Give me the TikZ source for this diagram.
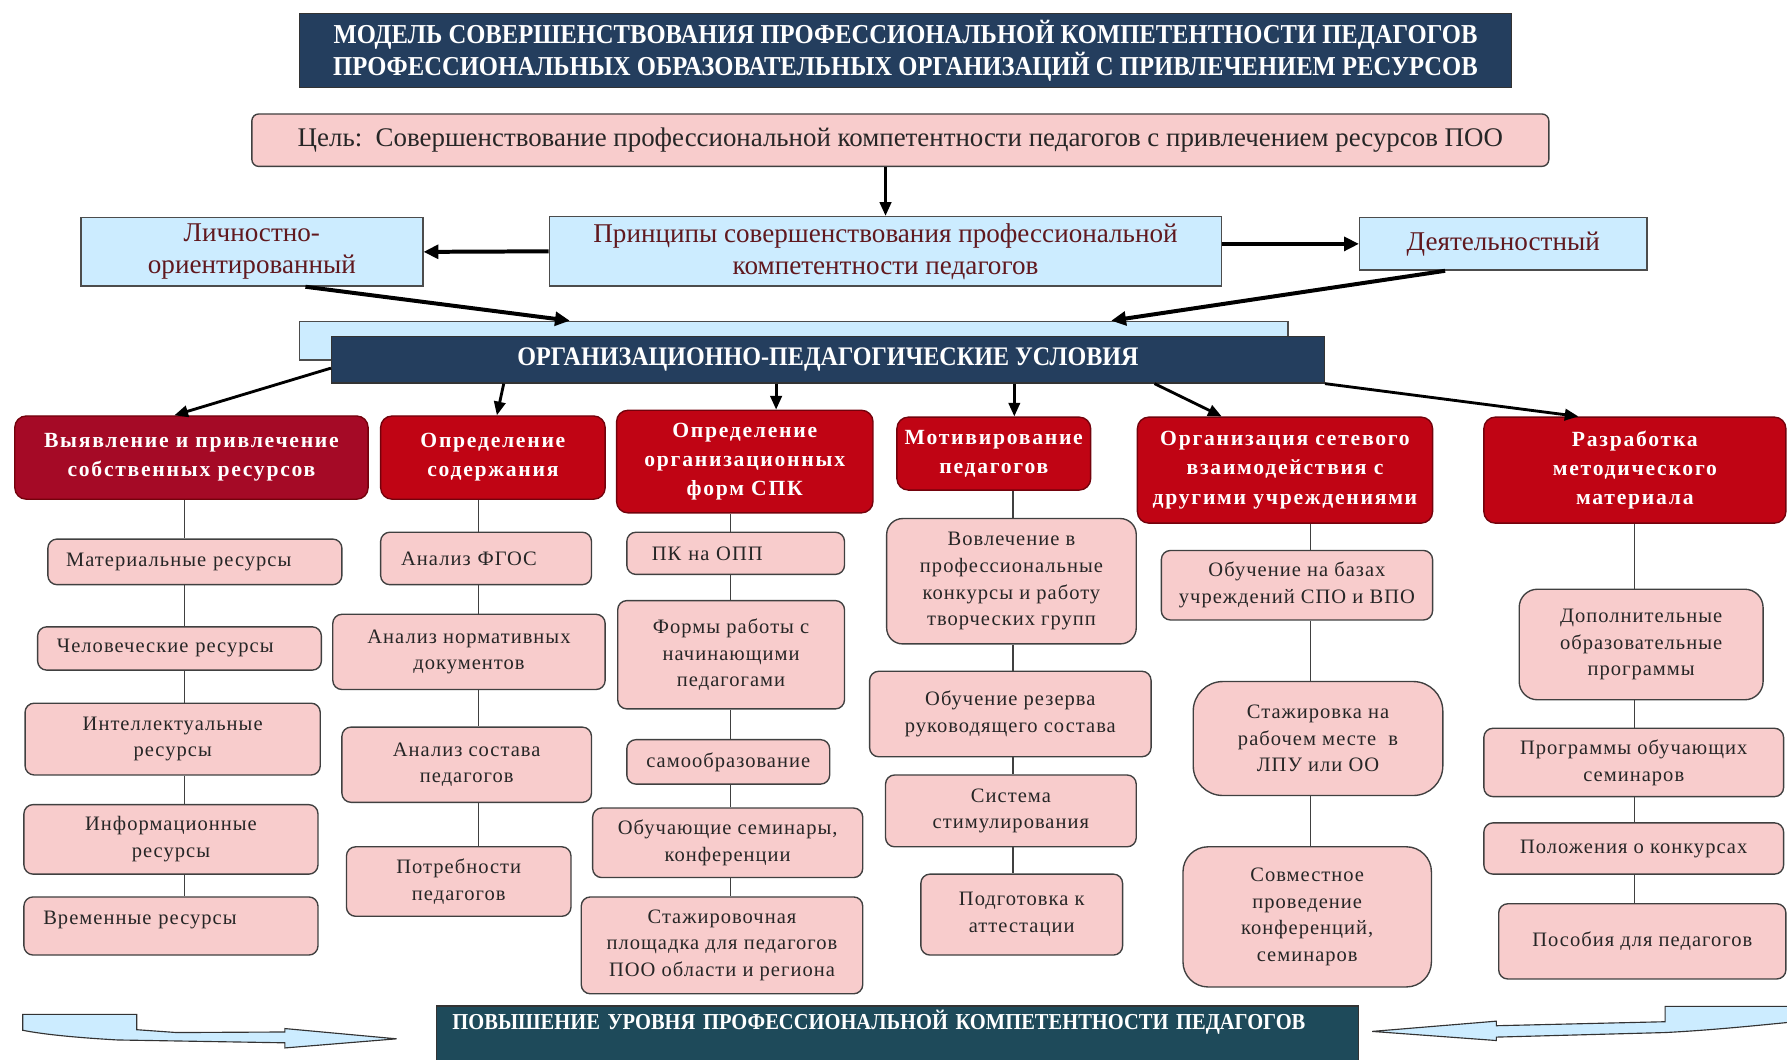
\documentclass[tikz,border=0pt]{standalone}
\usepackage{fontspec}
\setmainfont{Liberation Serif}
\newfontfamily\hdrfont[LetterSpace=8]{Liberation Serif}
\newfontfamily\boxfont[LetterSpace=5]{Liberation Serif}
\newfontfamily\capfont[FakeStretch=0.9]{Liberation Serif}
\usetikzlibrary{arrows.meta}

\definecolor{navy}{RGB}{36,62,94}
\definecolor{tealnavy}{RGB}{30,74,90}
\definecolor{hdrred}{RGB}{192,4,20}
\definecolor{hdrdark}{RGB}{165,10,38}
\definecolor{pinkfill}{RGB}{248,204,204}
\definecolor{skyfill}{RGB}{204,236,255}
\definecolor{maroon}{RGB}{96,24,30}

\tikzset{every picture/.style={line width=1.2pt}}
\tikzset{
  sz/.style 2 args={minimum width=#1, minimum height=#2},
  navybox/.style={draw=black!80, fill=navy, text=white, align=center, inner sep=0pt,
    font=\capfont\bfseries\fontsize{24}{28}\selectfont},
  skybox/.style={draw=black!70, fill=skyfill, text=maroon, align=center, inner sep=0pt,
    font=\fontsize{23.8}{28}\selectfont},
  goalbox/.style={draw=black!75, fill=pinkfill, rounded corners=6pt, text=black!85, inner sep=0pt,
    font=\fontsize{23.6}{28}\selectfont},
  redbox/.style={draw=hdrred!60!black, fill=hdrred, rounded corners=10pt, text=white, align=center,
    inner sep=0pt, font=\hdrfont\bfseries\fontsize{19}{25.5}\selectfont},
  pinkbox/.style={draw=black!75, fill=pinkfill, rounded corners=8pt, text=black!85, align=center,
    inner sep=0pt, font=\boxfont\fontsize{18}{23.5}\selectfont},
  link/.style={draw=black!75, line width=1.2pt},
  arr/.style={-{Triangle[length=12pt,width=10pt]}, line width=2.5pt},
  bigarr/.style={-{Triangle[length=13pt,width=12pt]}, line width=3.5pt},
  bentarrow/.style={draw=black!80, fill=skyfill, line width=1pt},
}

\begin{document}
\begin{tikzpicture}[x=1pt, y=-1pt]
  \useasboundingbox (0,0) rectangle (1568,930);

  % Title and goal
  \node[navybox, sz={1063pt}{65pt}] (title) at (794.5,44.5)
    {МОДЕЛЬ СОВЕРШЕНСТВОВАНИЯ ПРОФЕССИОНАЛЬНОЙ КОМПЕТЕНТНОСТИ ПЕДАГОГОВ\\
     ПРОФЕССИОНАЛЬНЫХ ОБРАЗОВАТЕЛЬНЫХ ОРГАНИЗАЦИЙ С ПРИВЛЕЧЕНИЕМ РЕСУРСОВ};
  \node[goalbox, sz={1138pt}{46pt}] (goal) at (790,123)
    {Цель:\ \ Совершенствование профессиональной компетентности педагогов с привлечением ресурсов ПОО};

  % Principles
  \node[skybox, sz={590pt}{61pt}] (princ) at (777,220.5)
    {Принципы совершенствования профессиональной\\компетентности педагогов};
  \node[skybox, sz={300pt}{60pt}] (lichn) at (221,221) {Личностно-\\ориентированный};
  \node[skybox, sz={252pt}{46pt}] (deyat) at (1319,214) {Деятельностный};

  % Conditions
  \node[skybox, sz={867pt}{34pt}] (condback) at (696.5,299) {};
  \node[navybox, sz={871pt}{41pt}, font=\capfont\bfseries\fontsize{23.5}{25}\selectfont] (cond)
    at (726.5,315.5) {ОРГАНИЗАЦИОННО-ПЕДАГОГИЧЕСКИЕ УСЛОВИЯ};

  \draw[arr] (princ.north |- goal.south) -- (princ.north);
  \draw[bigarr] (princ.west) -- (lichn.east);
  \draw[bigarr] (princ.east |- deyat.west) -- (deyat.west);
  \draw[bigarr] ([xshift=47pt]lichn.south) -- ([xshift=-196.5pt]condback.north);
  \draw[bigarr] ([xshift=-51pt]deyat.south) -- ([xshift=278.5pt]condback.north);

  % Headers
  \node[redbox, fill=hdrdark, sz={310pt}{73pt}] (h1) at (168,401.5)
    {Выявление и привлечение\\собственных ресурсов};
  \node[redbox, sz={197pt}{73pt}] (h2) at (432.5,401.5) {Определение\\содержания};
  \node[redbox, sz={225pt}{90pt}] (h3) at (653.5,405) {Определение\\организационных\\форм СПК};
  \node[redbox, sz={170pt}{64pt}] (h4) at (872,398) {Мотивирование\\педагогов};
  \node[redbox, sz={259pt}{93pt}] (h5) at (1127.5,412.5)
    {Организация сетевого\\взаимодействия с\\другими учреждениями};
  \node[redbox, sz={265pt}{93pt}] (h6) at (1434.5,412.5) {Разработка\\методического\\материала};

  \coordinate (t1) at ([xshift=-15pt]h1.north);
  \coordinate (t2) at ([xshift=3.5pt]h2.north);
  \coordinate (t3) at ([xshift=27.5pt]h3.north);
  \coordinate (t4) at ([xshift=18pt]h4.north);
  \coordinate (t5) at ([xshift=-55.5pt]h5.north);
  \coordinate (t6) at ([xshift=-49.5pt]h6.north);
  \draw[arr] ([yshift=-7.5pt]cond.west) -- (t1);
  \draw[arr] ([xshift=-284.5pt]cond.south) -- (t2);
  \draw[arr] (t3 |- cond.south) -- (t3);
  \draw[arr] (t4 |- cond.south) -- (t4);
  \draw[arr] ([xshift=286.5pt]cond.south) -- (t5);
  \draw[arr] (cond.south east) -- (t6);

  % Resources
  \node[pinkbox, sz={258pt}{40pt}, text width=226pt, align=left, inner xsep=16pt] (m1) at (171,493)
    {Материальные ресурсы};
  \node[pinkbox, sz={249pt}{38pt}, text width=215pt, align=left, inner xsep=17pt] (m2) at (157.5,569)
    {Человеческие ресурсы};
  \node[pinkbox, sz={259pt}{63pt}] (m3) at (151.5,648.5) {Интеллектуальные\\ресурсы};
  \node[pinkbox, sz={258pt}{61pt}] (m4) at (150,736.5) {Информационные\\ресурсы};
  \node[pinkbox, text width=224pt, align=left, inner xsep=17pt, text height=24pt, text depth=27pt]
    (m5) at (150,812.5) {Временные ресурсы};

  % Content
  \node[pinkbox, sz={185pt}{46pt}, text width=149pt, align=left, inner xsep=18pt] (s1) at (426.5,490)
    {Анализ ФГОС};
  \node[pinkbox, sz={239pt}{66pt}] (s2) at (411.5,572) {Анализ нормативных\\документов};
  \node[pinkbox, sz={219pt}{66pt}] (s3) at (409.5,671) {Анализ состава\\педагогов};
  \node[pinkbox, sz={197pt}{61pt}] (s4) at (402.5,773.5) {Потребности\\педагогов};

  % Forms
  \node[pinkbox, sz={191pt}{37pt}, text width=147pt, align=left, inner xsep=22pt] (f1) at (645.5,485.5)
    {ПК на ОПП};
  \node[pinkbox, sz={199pt}{95pt}] (f2) at (641.5,574.5) {Формы работы с\\начинающими\\педагогами};
  \node[pinkbox, sz={178pt}{39pt}] (f3) at (639,668.5) {самообразование};
  \node[pinkbox, sz={237pt}{61pt}] (f4) at (638.5,739.5) {Обучающие семинары,\\конференции};
  \node[pinkbox, sz={247pt}{85pt}] (f5) at (633.5,829.5)
    {Стажировочная\\площадка для педагогов\\ПОО области и региона};

  % Motivation
  \node[pinkbox, sz={219pt}{110pt}, rounded corners=14pt] (v1) at (887.5,510)
    {Вовлечение в\\профессиональные\\конкурсы и работу\\творческих групп};
  \node[pinkbox, sz={247pt}{75pt}] (v2) at (886.5,626.5) {Обучение резерва\\руководящего состава};
  \node[pinkbox, sz={220pt}{63pt}] (v3) at (887,711.5) {Система\\стимулирования};
  \node[pinkbox, sz={177pt}{71pt}] (v4) at (896.5,802.5) {Подготовка к\\аттестации};

  % Network
  \node[pinkbox, sz={238pt}{61pt}] (o1) at (1138,513.5) {Обучение на базах\\учреждений СПО и ВПО};
  \node[pinkbox, sz={219pt}{100pt}, rounded corners=26pt] (o2) at (1156.5,648)
    {Стажировка на\\рабочем месте\ \ в\\ЛПУ или ОО};
  \node[pinkbox, sz={218pt}{123pt}, rounded corners=22pt] (o3) at (1147,804.5)
    {Совместное\\проведение\\конференций,\\семинаров};

  % Methods
  \node[pinkbox, sz={214pt}{97pt}, rounded corners=16pt] (r1) at (1440,565.5)
    {Дополнительные\\образовательные\\программы};
  \node[pinkbox, sz={263pt}{60pt}] (r2) at (1433.5,669) {Программы обучающих\\семинаров};
  \node[pinkbox, sz={263pt}{45pt}] (r3) at (1433.5,744.5) {Положения о конкурсах};
  \node[pinkbox, sz={252pt}{66pt}] (r4) at (1441,826) {Пособия для педагогов};

  % Column links
  \coordinate (k1) at (162,0);
  \coordinate (k2) at (420,0);
  \coordinate (k3) at (641,0);
  \coordinate (k4) at (889,0);
  \coordinate (k5) at (1150,0);
  \coordinate (k6) at (1434,0);
  \foreach \a/\b/\k in {h1/m1/k1, m1/m2/k1, m2/m3/k1, m3/m4/k1, m4/m5/k1,
                        h2/s1/k2, s1/s2/k2, s2/s3/k2, s3/s4/k2,
                        h3/f1/k3, f1/f2/k3, f2/f3/k3, f3/f4/k3, f4/f5/k3,
                        h4/v1/k4, v1/v2/k4, v2/v3/k4, v3/v4/k4,
                        h5/o1/k5, o1/o2/k5, o2/o3/k5,
                        h6/r1/k6, r1/r2/k6, r2/r3/k6, r3/r4/k6}
    \draw[link] (\a.south -| \k) -- (\b.north -| \k);

  % Result
  \node[navybox, fill=tealnavy, anchor=north, text width=781pt, align=left, inner xsep=14pt,
    inner ysep=2pt, text height=19pt, text depth=29pt,
    font=\capfont\bfseries\fontsize{20}{23}\selectfont] (boost) at (787.5,882)
    {ПОВЫШЕНИЕ УРОВНЯ ПРОФЕССИОНАЛЬНОЙ КОМПЕТЕНТНОСТИ ПЕДАГОГОВ};

  \draw[bentarrow] (20,890) -- (120,890) -- (120,903.5) -- (155,906) -- (250,905.5) -- (250,902.5)
    -- (348,911.5) -- (250,919.5) -- (250,915) -- (103,912.5) .. controls (60,910) and (35,907) .. (20,904) -- cycle;
  \draw[bentarrow] (1570,883) -- (1461,883) -- (1461,896.5) -- (1313,900) -- (1313,896)
    -- (1204,905) -- (1313,913) -- (1313,910) -- (1461,906) .. controls (1500,904) and (1540,900) .. (1570,897) -- cycle;
\end{tikzpicture}
\end{document}
